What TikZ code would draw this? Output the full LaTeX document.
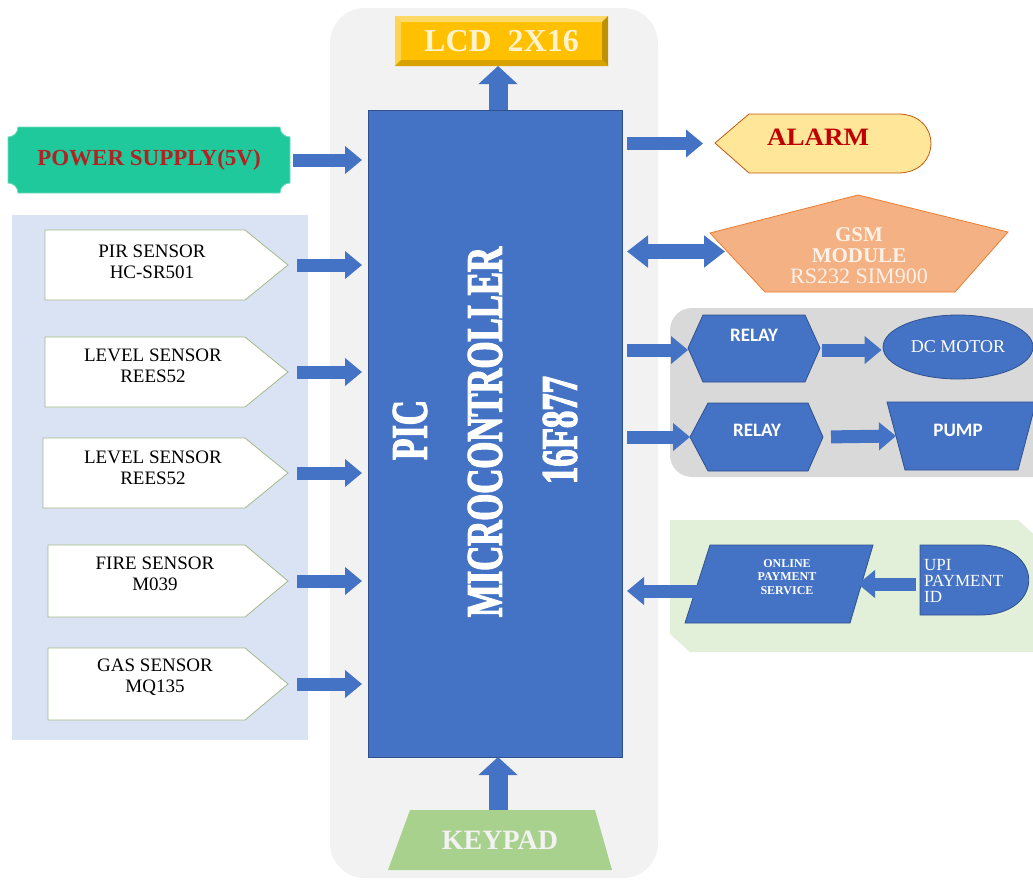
\documentclass[tikz,border=0pt]{standalone}
\usepackage{fontspec}
\setmainfont{Liberation Serif}
\newfontfamily\calfont{Carlito}
\newfontfamily\heavyserif[FakeBold=2.5,FakeStretch=0.68]{Liberation Serif Bold}
\usetikzlibrary{arrows.meta,shapes.geometric,calc}
\definecolor{mblue}{HTML}{4472C4}
\definecolor{bluedark}{HTML}{2F528F}
\definecolor{panelgray}{HTML}{F2F2F2}
\definecolor{panelblue}{HTML}{DAE3F3}
\definecolor{panelmid}{HTML}{D9D9D9}
\definecolor{panelgreen}{HTML}{E2F0D9}
\definecolor{lcdbase}{HTML}{FFC000}
\definecolor{lcdlight}{HTML}{FFD966}
\definecolor{lcddark}{HTML}{BF9000}
\definecolor{lcdtext}{HTML}{FFF2CC}
\definecolor{powerfill}{HTML}{20C99C}
\definecolor{powerline}{HTML}{6FDCC0}
\definecolor{powertext}{HTML}{B22222}
\definecolor{alarmfill}{HTML}{FFE699}
\definecolor{alarmline}{HTML}{C55A11}
\definecolor{alarmtext}{HTML}{C00000}
\definecolor{gsmfill}{HTML}{F4B183}
\definecolor{gsmline}{HTML}{ED7D31}
\definecolor{gsmtext}{HTML}{FDF1E8}
\definecolor{sensorline}{HTML}{A3B98A}
\definecolor{keyfill}{HTML}{A9D18E}
\begin{document}
\begin{tikzpicture}[x=1pt,y=-1pt,
  anchorbox/.style={inner sep=0pt, outer sep=0pt},
  barrow/.style={draw=mblue, line width=13pt, -{Triangle[width=27pt,length=17pt]}},
  bigarrow/.style={draw=mblue, line width=19pt, -{Triangle[width=38pt,length=18pt]}},
  dblarrow/.style={draw=mblue, line width=15pt, {Triangle[width=31pt,length=21pt]}-{Triangle[width=31pt,length=21pt]}},
  sensortext/.style={inner sep=0pt, align=center, font=\fontsize{19}{21}\selectfont},
  mcutext/.style={inner sep=0pt, text=white, rotate=90, font=\heavyserif\fontsize{51}{51}\selectfont},
  bluefill/.style={fill=mblue, draw=bluedark, line width=0.8pt},
  whitetext/.style={inner sep=0pt, text=white, align=center}
]
\clip (0,0) rectangle (1033,884);
\fill[white] (0,0) rectangle (1033,884);

% panels
\fill[panelgray, rounded corners=35pt] (330,8) rectangle (658,878);
\fill[panelblue] (12,215) rectangle (308,740);
\fill[panelmid, rounded corners=22pt] (670,308) rectangle (1070,477);
\fill[panelgreen] (670,520) -- (1018,520) -- (1040,540) -- (1040,652) -- (690,652) -- (670,634) -- cycle;

% microcontroller
\node[anchorbox, bluefill, minimum width=254pt, minimum height=647pt] (mcu) at (495,433.5) {};
\node[mcutext] (pic) at (410,430) {PIC};
\node[mcutext] (micro) at (485,432) {MICROCONTROLLER};
\node[mcutext] (chip) at (560,430) {16F877};

% LCD
\fill[lcdbase] (395,16) rectangle (608,66);
\fill[lcdlight] (395,16) -- (608,16) -- (602,22) -- (401,22) -- cycle;
\fill[lcdlight!80!lcdbase] (395,16) -- (401,22) -- (401,60) -- (395,66) -- cycle;
\fill[lcddark] (608,16) -- (608,66) -- (602,60) -- (602,22) -- cycle;
\fill[lcddark!60!lcdbase] (395,66) -- (608,66) -- (602,60) -- (401,60) -- cycle;
\node[anchorbox, minimum width=213pt, minimum height=50pt, text=lcdtext, font=\fontsize{32}{32}\selectfont\bfseries] (lcd) at (501.5,41) {LCD\ \ 2X16};

% power supply
\fill[powerfill, draw=powerline, line width=0.8pt] (18,127) -- (280,127) .. controls (280,132.5) and (284.5,137) .. (290,137) -- (290,183) .. controls (284.5,183) and (280,187.5) .. (280,193) -- (18,193) .. controls (18,187.5) and (13.5,183) .. (8,183) -- (8,137) .. controls (13.5,137) and (18,132.5) .. (18,127) -- cycle;
\node[anchorbox, minimum width=282pt, minimum height=66pt, text=powertext, font=\fontsize{23}{23}\selectfont\bfseries] (power) at (149,160) {POWER SUPPLY(5V)};

% sensors
\fill[white, draw=sensorline, line width=0.8pt] (45,230) -- (245,230) -- (288,265) -- (245,300) -- (45,300) -- cycle;
\node[anchorbox, minimum width=243pt, minimum height=70pt] (pir) at (166.5,265) {};
\node[sensortext] (pirt) at (152,262) {PIR SENSOR\\HC-SR501};

\fill[white, draw=sensorline, line width=0.8pt] (45,337) -- (245,337) -- (288,372) -- (245,407) -- (45,407) -- cycle;
\node[anchorbox, minimum width=243pt, minimum height=70pt] (lvla) at (166.5,372) {};
\node[sensortext] (lvlat) at (153,366) {LEVEL SENSOR\\REES52};

\fill[white, draw=sensorline, line width=0.8pt] (43,438) -- (245,438) -- (288,473) -- (245,508) -- (43,508) -- cycle;
\node[anchorbox, minimum width=245pt, minimum height=70pt] (lvlb) at (165.5,473) {};
\node[sensortext] (lvlbt) at (153,468) {LEVEL SENSOR\\REES52};

\fill[white, draw=sensorline, line width=0.8pt] (48,545) -- (245,545) -- (288,581) -- (245,617) -- (48,617) -- cycle;
\node[anchorbox, minimum width=240pt, minimum height=72pt] (fire) at (168,581) {};
\node[sensortext] (firet) at (155,574) {FIRE SENSOR\\M039};

\fill[white, draw=sensorline, line width=0.8pt] (48,648) -- (245,648) -- (288,684) -- (245,720) -- (48,720) -- cycle;
\node[anchorbox, minimum width=240pt, minimum height=72pt] (gas) at (168,684) {};
\node[sensortext] (gast) at (155,677) {GAS SENSOR\\MQ135};

% alarm
\fill[alarmfill, draw=alarmline, line width=0.8pt] (715,143) -- (749,114) -- (898,114) .. controls (942,114) and (942,173) .. (898,173) -- (749,173) -- cycle;
\node[anchorbox, minimum width=216pt, minimum height=59pt] (alarm) at (823,143.5) {};
\node[inner sep=0pt, text=alarmtext, font=\fontsize{25}{25}\selectfont\bfseries] (alarmt) at (818,137) {\scalebox{1.08}[1]{ALARM}};

% GSM
\fill[gsmfill, draw=gsmline, line width=0.8pt] (858,195) -- (1008,232) -- (955,292) -- (765,292) -- (710,233) -- cycle;
\node[anchorbox, minimum width=298pt, minimum height=97pt] (gsm) at (859,243.5) {};
\node[whitetext, text=gsmtext, font=\fontsize{21}{21}\selectfont] (gsmt) at (859,256) {\textbf{GSM}\\\textbf{MODULE}\\\fontsize{22}{22}\selectfont RS232 SIM900};

% relays, motor, pump
\fill[bluefill] (688,348) -- (703,315) -- (805,315) -- (820,348) -- (805,382) -- (703,382) -- cycle;
\node[anchorbox, minimum width=132pt, minimum height=67pt] (relaya) at (754,348) {};
\node[whitetext, font=\calfont\fontsize{19}{19}\selectfont\bfseries] (relayat) at (754,335) {RELAY};

\fill[bluefill] (690,437) -- (708,403) -- (808,403) -- (823,437) -- (808,471) -- (708,471) -- cycle;
\node[anchorbox, minimum width=133pt, minimum height=68pt] (relayb) at (756.5,437) {};
\node[whitetext, font=\calfont\fontsize{19}{19}\selectfont\bfseries] (relaybt) at (757,430) {RELAY};

\node[ellipse, bluefill, inner sep=0pt, minimum width=150pt, minimum height=64pt, text=white, font=\fontsize{18}{18}\selectfont] (motor) at (958,347) {DC MOTOR};

\fill[bluefill] (887,402) -- (1036,402) -- (1018,470) -- (905,470) -- cycle;
\node[anchorbox, minimum width=128pt, minimum height=68pt] (pump) at (960,436) {};
\node[whitetext, font=\calfont\fontsize{19}{19}\selectfont\bfseries] (pumpt) at (958,430) {PUMP};

% payment
\fill[bluefill] (710,545) -- (873,545) -- (850,623) -- (685,623) -- cycle;
\node[anchorbox, minimum width=156pt, minimum height=78pt] (online) at (780,584) {};
\node[whitetext, font=\fontsize{12}{13.5}\selectfont\bfseries] (onlinet) at (787,577) {ONLINE\\PAYMENT\\SERVICE};

\fill[bluefill] (920,545) -- (980,545) .. controls (1045,545) and (1045,615) .. (980,615) -- (920,615) -- cycle;
\node[anchorbox, minimum width=110pt, minimum height=70pt] (upi) at (975,580) {};
\node[inner sep=0pt, text=white, align=left, anchor=west, font=\fontsize{17}{16}\selectfont] (upit) at (924,581) {UPI\\PAYMENT\\ID};

% keypad
\fill[keyfill] (410,810) -- (595,810) -- (612,870) -- (388,870) -- cycle;
\node[anchorbox, minimum width=224pt, minimum height=60pt, text=panelgray, font=\fontsize{28}{28}\selectfont\bfseries] (keypad) at (500,840) {KEYPAD};

% connectors
\draw[bigarrow] ([xshift=3pt]mcu.north) -- ([xshift=3pt]mcu.north |- lcd.south);
\draw[bigarrow] ([xshift=-2pt]keypad.north) -- ([xshift=-2pt]keypad.north |- mcu.south);
\draw[barrow, shorten <=3pt, shorten >=6pt] (power.east) -- (power.east -| mcu.west);
\draw[barrow, shorten <=9pt, shorten >=6pt] (pir.east) -- (pir.east -| mcu.west);
\draw[barrow, shorten <=9pt, shorten >=6pt] (lvla.east) -- (lvla.east -| mcu.west);
\draw[barrow, shorten <=9pt, shorten >=6pt] (lvlb.east) -- (lvlb.east -| mcu.west);
\draw[barrow, shorten <=9pt, shorten >=6pt] (fire.east) -- (fire.east -| mcu.west);
\draw[barrow, shorten <=9pt, shorten >=6pt] (gas.east) -- (gas.east -| mcu.west);
\draw[barrow, shorten <=5pt, shorten >=12pt] (alarm.west -| mcu.east) -- (alarm.west);
\draw[dblarrow, shorten <=5pt, shorten >=-15pt] ([yshift=-8pt]gsm.west -| mcu.east) -- ([yshift=-8pt]gsm.west);
\draw[barrow, shorten <=5pt] ([yshift=-2pt]relaya.west -| mcu.east) -- ([yshift=-2pt]relaya.west);
\draw[barrow, shorten <=2pt, shorten >=1pt] ([yshift=-2pt]relaya.east) -- ([yshift=-2pt]relaya.east -| motor.west);
\draw[barrow, shorten <=5pt] (relayb.west -| mcu.east) -- (relayb.west);
\draw[barrow, shorten <=8pt] (relayb.east) -- (pump.west);
\draw[barrow, shorten >=5pt] ([yshift=-7pt]online.west) -- ([yshift=-7pt]online.west -| mcu.east);
\draw[barrow, shorten <=4pt] ([yshift=-4pt]upi.west) -- ([yshift=-4pt]upi.west -| online.east);
\end{tikzpicture}
\end{document}
